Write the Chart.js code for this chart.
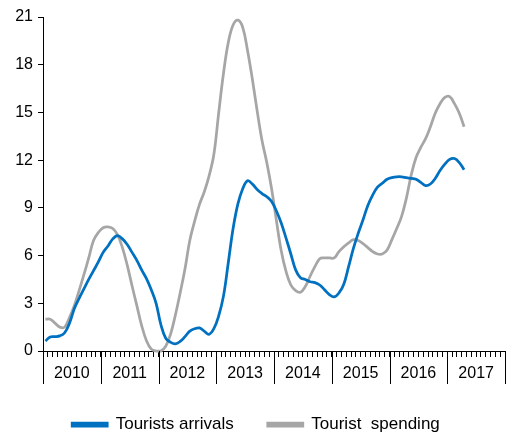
<!DOCTYPE html>
<html>
<head>
<meta charset="utf-8">
<script src="https://cdn.jsdelivr.net/npm/chart.js@4.4.1/dist/chart.umd.min.js"></script>
<style>
  html, body { margin: 0; padding: 0; background: #fff; overflow: hidden; }
  #wrap { width: 512px; height: 443px; }
</style>
</head>
<body>
<div id="wrap"><canvas id="tourismChart"></canvas></div>
<script>
// monthly series, Jan 2010 onwards (y/y % change)
const years = ['2010', '2011', '2012', '2013', '2014', '2015', '2016', '2017'];
const yTicks = [0, 3, 6, 9, 12, 15, 18, 21];

const arrivals = [
    0.63, 0.88, 0.9, 0.95, 1.15, 1.75, 2.65, 3.3, 3.9, 4.5, 5.05, 5.6,
    6.2, 6.6, 7.05, 7.25, 7.05, 6.7, 6.2, 5.7, 5.1, 4.55, 3.85, 3.0,
    1.65, 0.8, 0.55, 0.45, 0.6, 0.9, 1.25, 1.4, 1.45, 1.25, 1.05, 1.4,
    2.2, 3.45, 5.55, 7.7, 9.25, 10.2, 10.7, 10.5, 10.15, 9.9, 9.7, 9.4,
    8.8, 8.05, 7.1, 6.1, 5.1, 4.6, 4.5, 4.35, 4.3, 4.15, 3.85, 3.55,
    3.4, 3.65, 4.2, 5.3, 6.45, 7.4, 8.25, 9.15, 9.8, 10.3, 10.55, 10.8,
    10.9, 10.95, 10.95, 10.9, 10.85, 10.8, 10.6, 10.4, 10.5, 10.85, 11.35, 11.75,
    12.05, 12.1, 11.85, 11.4
];

const spending = [
    2.0, 2.0, 1.75, 1.5, 1.5, 2.1, 2.85, 3.8, 4.8, 5.85, 6.95, 7.45,
    7.75, 7.8, 7.7, 7.3, 6.5, 5.4, 4.1, 2.85, 1.6, 0.65, 0.12, 0.0,
    0.0, 0.3, 1.05, 2.25, 3.65, 5.15, 6.95, 8.15, 9.2, 10.0, 11.0, 12.35,
    14.95, 17.45, 19.4, 20.5, 20.8, 20.35, 18.9, 17.1, 15.1, 13.25, 11.85, 10.2,
    8.2, 6.3, 5.0, 4.15, 3.8, 3.7, 4.05, 4.7, 5.3, 5.8, 5.85, 5.85,
    5.85, 6.25, 6.55, 6.8, 7.0, 6.95, 6.75, 6.5, 6.25, 6.1, 6.1, 6.35,
    7.0, 7.7, 8.45, 9.6, 11.05, 12.15, 12.8, 13.35, 14.1, 14.95, 15.55, 15.95,
    16.0, 15.55, 14.95, 14.1
];

const toPoints = arr => arr.map((v, i) => ({ x: i + 0.5, y: v }));
const months = years.length * 12;
const font = 'Liberation Sans, Arial, sans-serif';

// long year separators under the x axis
const yearDividers = {
    id: 'yearDividers',
    afterDraw(chart) {
        const { ctx, scales: { x }, chartArea } = chart;
        ctx.save();
        ctx.strokeStyle = '#000';
        ctx.lineWidth = 1;
        for (let k = 0; k <= years.length; k++) {
            const px = Math.round(x.getPixelForValue(k * 12)) + 0.5;
            ctx.beginPath();
            ctx.moveTo(px, chartArea.bottom);
            ctx.lineTo(px, chartArea.bottom + 33);
            ctx.stroke();
        }
        ctx.restore();
    }
};

new Chart(document.getElementById('tourismChart'), {
    type: 'line',
    data: {
        datasets: [
            {
                label: 'Tourists arrivals',
                data: toPoints(arrivals),
                borderColor: '#0070C0',
                backgroundColor: '#0070C0',
                borderWidth: 2.75,
                pointRadius: 0,
                tension: 0.4,
                clip: false
            },
            {
                label: 'Tourist  spending',
                data: toPoints(spending),
                borderColor: '#A6A6A6',
                backgroundColor: '#A6A6A6',
                borderWidth: 2.75,
                pointRadius: 0,
                tension: 0.4,
                clip: false
            }
        ]
    },
    options: {
        responsive: true,
        maintainAspectRatio: false,
        animation: false,
        layout: { autoPadding: false, padding: { top: 17, right: 0, left: 0, bottom: 0 } },
        plugins: {
            tooltip: { enabled: false },
            legend: {
                position: 'bottom',
                labels: {
                    color: '#000',
                    font: { family: font, size: 17 },
                    boxWidth: 35,
                    boxHeight: 3,
                    padding: 34
                }
            }
        },
        scales: {
            x: {
                type: 'linear',
                min: 0,
                max: months,
                grid: { drawOnChartArea: false, tickLength: 6, color: '#000' },
                border: { color: '#000', width: 1 },
                ticks: {
                    stepSize: 1,
                    autoSkip: false,
                    maxRotation: 0,
                    padding: 7,
                    color: '#000',
                    font: { family: font, size: 16 },
                    callback: v => (v % 12 === 6 ? years[(v - 6) / 12] : '')
                },
                afterFit: s => { s.height = 31; }
            },
            y: {
                min: 0,
                max: 21,
                afterBuildTicks: s => { s.ticks = yTicks.map(v => ({ value: v })); },
                grid: { drawOnChartArea: false, tickLength: 5, color: '#000' },
                border: { color: '#000', width: 1 },
                ticks: {
                    padding: 5,
                    color: '#000',
                    font: { family: font, size: 16 }
                },
                afterFit: s => { s.width = 43; }
            }
        }
    },
    plugins: [yearDividers]
});
</script>
</body>
</html>
